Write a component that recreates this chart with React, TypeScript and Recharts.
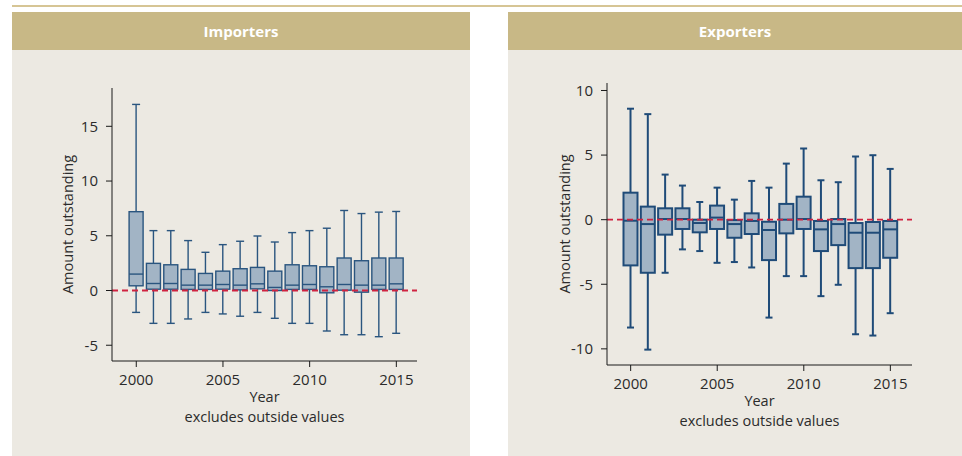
import {
  Bar,
  ComposedChart,
  ReferenceLine,
  XAxis,
  YAxis,
} from 'recharts';

const years = [2000, 2001, 2002, 2003, 2004, 2005, 2006, 2007, 2008, 2009, 2010, 2011, 2012, 2013, 2014, 2015];

// Importers: whiskers, quartiles and median per year
const impMax = [17.0, 5.47, 5.47, 4.56, 3.49, 4.19, 4.5, 4.98, 4.43, 5.29, 5.47, 5.69, 7.31, 7.03, 7.16, 7.22];
const impQ3 = [7.2, 2.48, 2.35, 1.93, 1.56, 1.77, 1.99, 2.11, 1.77, 2.35, 2.26, 2.17, 2.97, 2.72, 2.97, 2.97];
const impMed = [1.5, 0.64, 0.64, 0.49, 0.49, 0.55, 0.49, 0.61, 0.28, 0.49, 0.55, 0.34, 0.55, 0.49, 0.49, 0.61];
const impQ1 = [0.43, 0.12, 0.12, 0.1, 0.1, 0.12, 0.06, 0.15, 0.0, 0.1, 0.1, -0.21, 0.03, -0.15, 0.1, 0.1];
const impMin = [-2.0, -3.0, -3.0, -2.6, -2.0, -2.14, -2.35, -2.0, -2.54, -3.0, -3.0, -3.7, -4.04, -4.04, -4.22, -3.91];

// Exporters
const expMax = [8.59, 8.17, 3.49, 2.64, 1.37, 2.48, 1.55, 3.0, 2.48, 4.34, 5.51, 3.05, 2.9, 4.89, 4.99, 3.93];
const expQ3 = [2.09, 1.01, 0.88, 0.88, 0.0, 1.09, -0.03, 0.49, -0.16, 1.22, 1.78, -0.1, 0.05, -0.26, -0.18, -0.1];
const expMed = [-0.08, -0.34, 0.05, 0.05, -0.26, 0.16, -0.34, -0.1, -0.8, 0.0, 0.05, -0.75, -0.34, -1.01, -1.01, -0.75];
const expQ1 = [-3.54, -4.11, -1.16, -0.72, -0.98, -0.72, -1.4, -1.11, -3.13, -1.06, -0.72, -2.43, -1.97, -3.75, -3.75, -2.95];
const expMin = [-8.35, -10.06, -4.11, -2.3, -2.43, -3.34, -3.28, -3.7, -7.58, -4.37, -4.37, -5.92, -5.04, -8.87, -8.97, -7.24];

const impTicks = [-5, 0, 5, 10, 15];
const expTicks = [-10, -5, 0, 5, 10];

const importers = years.map((year, i) => ({
  year,
  min: impMin[i], q1: impQ1[i], median: impMed[i], q3: impQ3[i], max: impMax[i],
}));
const exporters = years.map((year, i) => ({
  year,
  min: expMin[i], q1: expQ1[i], median: expMed[i], q3: expQ3[i], max: expMax[i],
}));

const FONT = '"Open Sans", "Noto Sans", sans-serif';
const TEXT = '#2b2b2b';
const PANEL = '#ece9e2';
const HEADER = '#c8b886';
const RED = '#cf2340';

type BoxStyle = { line: string; fillBox: string; sw: number; boxW: number; capW: number };

function BoxGlyph(props: any) {
  const { x, y, width, height, payload, style } = props;
  const s = style as BoxStyle;
  if (payload == null || x == null || y == null) return null;
  const { min, q1, median, q3, max } = payload;
  const top = Math.min(y, y + height);
  const h = Math.abs(height);
  const span = max - min || 1;
  // linear map through the bar's own pixel extent (max -> top, min -> bottom)
  const py = (v: number) => top + ((max - v) / span) * h;
  const cx = x + width / 2;
  const bx = cx - s.boxW / 2;
  return (
    <g stroke={s.line} strokeWidth={s.sw}>
      <line x1={cx} x2={cx} y1={py(max)} y2={py(q3)} />
      <line x1={cx} x2={cx} y1={py(q1)} y2={py(min)} />
      <line x1={cx - s.capW / 2} x2={cx + s.capW / 2} y1={py(max)} y2={py(max)} />
      <line x1={cx - s.capW / 2} x2={cx + s.capW / 2} y1={py(min)} y2={py(min)} />
      <rect x={bx} y={py(q3)} width={s.boxW} height={Math.max(py(q1) - py(q3), 0.5)} fill={s.fillBox} />
      <line x1={bx} x2={bx + s.boxW} y1={py(median)} y2={py(median)} />
    </g>
  );
}

interface PanelProps {
  title: string;
  left: number;
  width: number;
  data: typeof importers;
  domain: [number, number];
  ticks: number[];
  margin: { top: number; right: number; bottom: number; left: number };
  yAxisWidth: number;
  padding: { left: number; right: number };
  labelX: number;
  yearTop: number;
  box: BoxStyle;
}

function Panel(p: PanelProps) {
  const chartH = 406;
  const plotL = p.margin.left + p.yAxisWidth;
  const plotR = p.width - p.margin.right;
  const plotMid = (plotL + plotR) / 2;
  return (
    <div style={{ position: 'absolute', left: p.left, top: 12, width: p.width, height: 444, background: PANEL }}>
      <div
        style={{
          height: 38,
          background: HEADER,
          color: '#fff',
          fontWeight: 700,
          fontSize: 15,
          lineHeight: '38px',
          textAlign: 'center',
        }}
      >
        {p.title}
      </div>
      <div style={{ position: 'absolute', left: 0, top: 38 }}>
        <ComposedChart
          width={p.width}
          height={chartH}
          data={p.data}
          margin={p.margin}
          barSize={15}
        >
          <XAxis
            dataKey="year"
            type="category"
            interval={4}
            padding={p.padding}
            stroke="#1a1a1a"
            tickSize={6}
            tickMargin={7}
            height={30}
            tick={{ fontSize: 15, fill: TEXT, fontFamily: FONT }}
          />
          <YAxis
            type="number"
            domain={p.domain}
            ticks={p.ticks}
            allowDataOverflow
            width={p.yAxisWidth}
            stroke="#1a1a1a"
            tickSize={6}
            tickMargin={8}
            tick={{ fontSize: 15, fill: TEXT, fontFamily: FONT }}
            label={{
              value: 'Amount outstanding',
              angle: -90,
              position: 'insideLeft',
              offset: p.labelX,
              style: { textAnchor: 'middle', fontSize: 14.5, fill: TEXT, fontFamily: FONT },
            }}
          />
          <ReferenceLine y={0} stroke={RED} strokeWidth={1.8} strokeDasharray="6 4" />
          <Bar
            dataKey={(d: any) => [d.min, d.max]}
            isAnimationActive={false}
            shape={(props: any) => <BoxGlyph {...props} style={p.box} />}
          />
        </ComposedChart>
      </div>
      <div
        style={{
          position: 'absolute',
          left: plotMid - 150,
          width: 300,
          top: p.yearTop,
          textAlign: 'center',
          fontSize: 14.5,
          lineHeight: '20px',
          color: TEXT,
        }}
      >
        <div>Year</div>
        <div>excludes outside values</div>
      </div>
    </div>
  );
}

export default function App() {
  return (
    <div
      style={{
        position: 'absolute',
        left: 0,
        top: 0,
        width: 962,
        height: 456,
        background: '#fff',
        fontFamily: FONT,
        overflow: 'hidden',
      }}
    >
      <div style={{ position: 'absolute', left: 12, right: 0, top: 5, height: 2, background: '#d6c595' }} />
      <Panel
        title="Importers"
        left={12}
        width={458}
        data={importers}
        domain={[-6.44, 18.5]}
        ticks={impTicks}
        margin={{ top: 38, right: 53, bottom: 65, left: 0 }}
        yAxisWidth={100}
        padding={{ left: 15.6, right: 12 }}
        labelX={56}
        yearTop={375}
        box={{ line: '#2a557f', fillBox: '#a2b4c5', sw: 1.4, boxW: 14, capW: 8 }}
      />
      <Panel
        title="Exporters"
        left={508}
        width={454}
        data={exporters}
        domain={[-11.25, 10.58]}
        ticks={expTicks}
        margin={{ top: 33, right: 50, bottom: 61, left: 0 }}
        yAxisWidth={99}
        padding={{ left: 15, right: 13 }}
        labelX={57}
        yearTop={379}
        box={{ line: '#1f4b78', fillBox: '#a2b4c5', sw: 2, boxW: 14, capW: 7 }}
      />
    </div>
  );
}
